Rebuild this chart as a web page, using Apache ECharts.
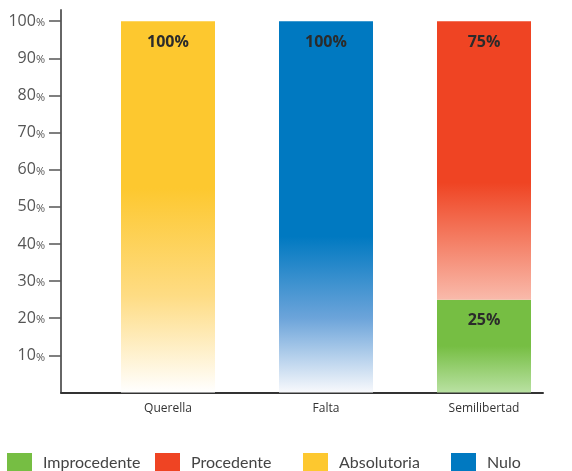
<!DOCTYPE html>
<html>
<head>
<meta charset="utf-8">
<script src="https://cdn.jsdelivr.net/npm/echarts@6/dist/echarts.min.js"></script>
<style>
html,body{margin:0;padding:0;background:#fff;}
#chart{width:572px;height:471px;}
</style>
</head>
<body>
<div id="chart"></div>
<script>
var categories = ['Querella', 'Falta', 'Semilibertad'];
var seriesNames = ['Improcedente', 'Procedente', 'Absolutoria', 'Nulo'];
var improcedente = [0, 0, 25];
var procedente = [0, 0, 75];
var absolutoria = [100, 0, 0];
var nulo = [0, 100, 0];
var yTicks = [10, 20, 30, 40, 50, 60, 70, 80, 90, 100];

var FONT = 'Open Sans';
var solid = ['#76BE43', '#EF4423', '#FDC82F', '#0079C1'];
var grads = [
  [[0, '#76BE43'], [0.5, '#76BE43'], [1, '#B9E1A2']],
  [[0, '#EF4423'], [0.58, '#EF4423'], [0.78, '#F47C62'], [1, '#F9BAAB']],
  [[0, '#FDC82F'], [0.45, '#FDC82F'], [0.74, '#FEDC84'], [1, '#FFFFFF']],
  [[0, '#0079C1'], [0.58, '#0079C1'], [0.8, '#6CA4DA'], [1, '#F8F9FC']]
];
var values = [improcedente, procedente, absolutoria, nulo];

function grad(stops) {
  return new echarts.graphic.LinearGradient(0, 0, 0, 1,
    stops.map(function (s) { return { offset: s[0], color: s[1] }; }));
}

var series = seriesNames.map(function (name, i) {
  return {
    name: name,
    type: 'bar',
    stack: 'total',
    xAxisIndex: 0,
    yAxisIndex: 0,
    barWidth: 94,
    data: values[i],
    itemStyle: { color: grad(grads[i]) },
    label: {
      show: true,
      position: 'insideTop',
      distance: 13,
      fontFamily: FONT,
      fontWeight: 'bold',
      fontSize: 16,
      color: '#2b2b2b',
      formatter: function (p) { return p.value ? p.value + '%' : ''; }
    },
    emphasis: { disabled: true }
  };
});

var legends = seriesNames.map(function (name, i) {
  return {
    left: 7 + 148 * i,
    top: 453,
    padding: 0,
    itemWidth: 25,
    itemHeight: 20,
    icon: 'rect',
    selectedMode: false,
    data: [{ name: name, itemStyle: { color: solid[i] } }],
    textStyle: { fontFamily: 'Lato', fontSize: 16, color: '#444', padding: [0, 0, 0, 6] }
  };
});

var option = {
  animation: false,
  backgroundColor: '#fff',
  grid: [
    { left: 89, width: 474, top: 10, bottom: 78.5 },
    { left: 61, width: 482, top: 10, bottom: 78.5 }
  ],
  legend: legends,
  xAxis: [
    {
      type: 'category', gridIndex: 0, data: categories,
      axisLine: { show: false }, axisTick: { show: false },
      axisLabel: { margin: 10, fontFamily: FONT, fontSize: 12, color: '#333' }
    },
    {
      type: 'value', gridIndex: 1, min: 0, max: 1,
      axisLine: { show: true, lineStyle: { color: '#333', width: 2 } },
      axisTick: { show: false }, axisLabel: { show: false }, splitLine: { show: false }
    }
  ],
  yAxis: [
    {
      type: 'value', gridIndex: 0, min: 0, max: 103, show: false, splitLine: { show: false }
    },
    {
      type: 'value', gridIndex: 1, min: 0, max: 103,
      axisLine: { show: true, lineStyle: { color: '#666', width: 2 } },
      axisTick: { show: true, length: 12, customValues: yTicks, lineStyle: { color: '#555', width: 1.5 } },
      axisLabel: {
        margin: 16, customValues: yTicks,
        formatter: function (v) { return '{n|' + v + '}{p|%}'; },
        rich: {
          n: { fontFamily: FONT, fontSize: 16, color: '#555' },
          p: { fontFamily: FONT, fontSize: 11, color: '#555', padding: [4, 0, 0, 0] }
        }
      },
      splitLine: { show: false }
    }
  ],
  series: series
};

var chart = echarts.init(document.getElementById('chart'), null, { renderer: 'canvas' });
chart.setOption(option);
</script>
</body>
</html>
